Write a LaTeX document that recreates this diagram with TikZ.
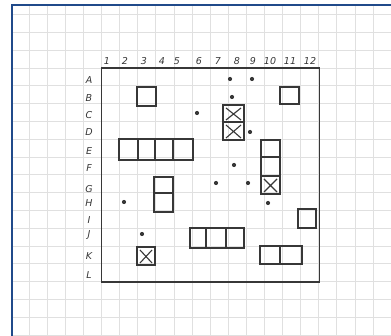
\documentclass[tikz,border=0pt]{standalone}
\usepackage{fontspec}
\setmainfont{DejaVu Sans}
\definecolor{paper}{RGB}{224,224,224}
\definecolor{frameblue}{RGB}{32,74,138}
\definecolor{ink}{RGB}{55,55,55}
\begin{document}
\begin{tikzpicture}[x=1pt,y=-1pt,
  cellbox/.style={draw=ink,line width=1.3pt},
  xmark/.style={draw=ink,line width=1.1pt},
  shot/.style={circle,fill=ink,inner sep=0pt,minimum size=4.2pt},
  lbl/.style={text=ink,font=\fontsize{9.5}{10}\selectfont\itshape,inner sep=0pt}]
\useasboundingbox (0,0) rectangle (391,336);
\fill[white] (0,0) rectangle (391,336);
% graph paper
\begin{scope}
\clip (12,5) rectangle (391,336);
\foreach \k in {-5,...,17} {
  \draw[paper,line width=0.8pt] ({101.5+18.1*\k},0) -- ({101.5+18.1*\k},336);
}
\foreach \k in {-4,...,16} {
  \draw[paper,line width=0.8pt] (0,{68+17.8*\k}) -- (391,{68+17.8*\k});
}
\end{scope}
% blue page frame
\draw[frameblue,line width=2pt] (12,5) rectangle (400,345);
% board
\draw[ink,line width=1.6pt] (101.5,68) rectangle (319.5,282);
% column labels
\foreach \n/\x in {1/107,2/125,3/144,4/162,5/177,6/199,7/218,8/237,9/253,10/270,11/290,12/310} {
  \node[lbl] (c\n) at (\x,61) {\n};
}
% row labels
\foreach \r/\y in {A/80,B/98,C/115,D/132,E/151,F/168,G/189,H/203,I/220,J/235,K/256,L/275} {
  \node[lbl] (r\r) at (89,\y) {\r};
}
% ships
\draw[cellbox] (137,87) rectangle (156,106);
\draw[cellbox] (280,87) rectangle (299,104);
\draw[cellbox] (223,105) rectangle (244,140) (223,122) -- (244,122);
\draw[xmark] (226,108) -- (241,120) (241,108) -- (226,120);
\draw[xmark] (226,125) -- (241,138) (241,125) -- (226,138);
\draw[cellbox] (119,139) rectangle (193,160) (138,139) -- (138,160) (155,139) -- (155,160) (173,139) -- (173,160);
\draw[cellbox] (261,140) rectangle (280,194) (261,157) -- (280,157) (261,176) -- (280,176);
\draw[xmark] (264,179) -- (277,192) (277,179) -- (264,192);
\draw[cellbox] (154,177) rectangle (173,212) (154,193) -- (173,193);
\draw[cellbox] (298,209) rectangle (316,228);
\draw[cellbox] (190,228) rectangle (244,248) (206,228) -- (206,248) (226,228) -- (226,248);
\draw[cellbox] (137,247) rectangle (155,265);
\draw[xmark] (140,250) -- (152,263) (152,250) -- (140,263);
\draw[cellbox] (260,246) rectangle (302,264) (280,246) -- (280,264);
% misses
\foreach \p/\x/\y in {a/230/79,b/252/79,c/232/97,d/197/113,e/250/132,f/234/165,g/216/183,h/248/183,i/124/202,j/268/203,k/142/234} {
  \node[shot] (s\p) at (\x,\y) {};
}
\end{tikzpicture}
\end{document}
